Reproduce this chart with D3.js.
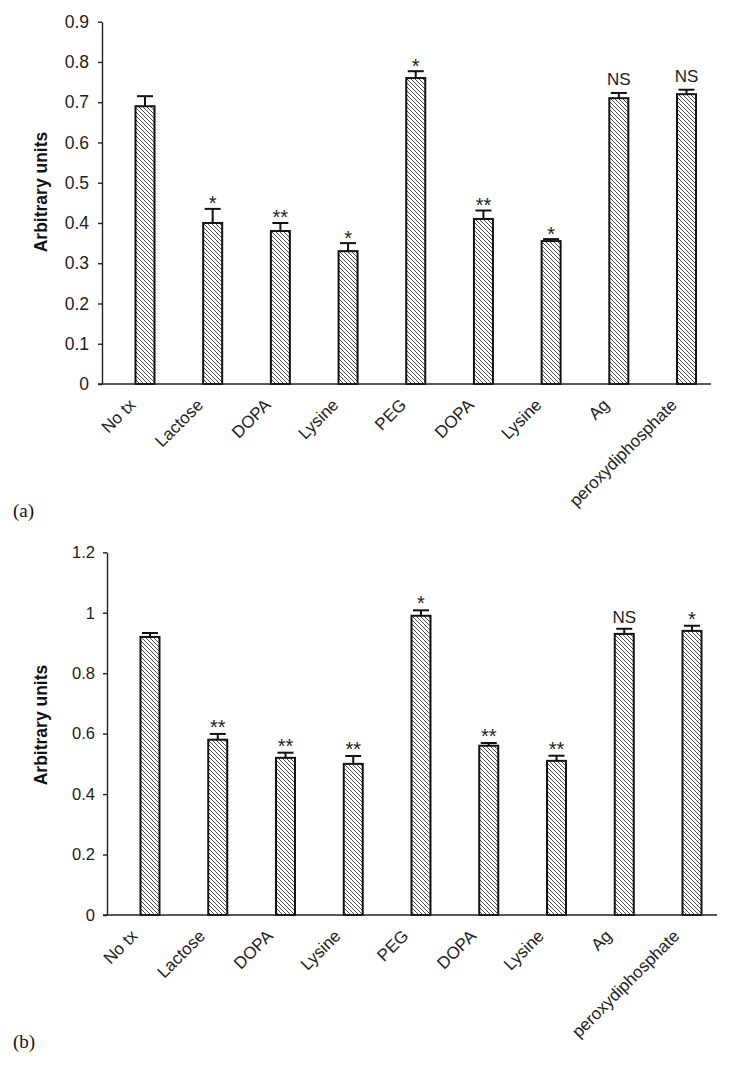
<!DOCTYPE html>
<html>
<head>
<meta charset="utf-8">
<script src="https://cdn.jsdelivr.net/npm/d3@7"></script>
<style>
  body { margin: 0; background: #fff; }
  svg { display: block; }
</style>
</head>
<body>
<svg id="chart" width="746" height="1067"></svg>
<script>
// categories shared by both panels (duplicate names, so bars are keyed by index)
const categories = ['No tx', 'Lactose', 'DOPA', 'Lysine', 'PEG', 'DOPA', 'Lysine', 'Ag', 'peroxydiphosphate'];

// panel (a)
const valuesA = [0.69, 0.40, 0.38, 0.33, 0.76, 0.41, 0.355, 0.71, 0.72];
const errorsA = [0.025, 0.035, 0.02, 0.02, 0.017, 0.021, 0.005, 0.013, 0.011];
const marksA = ['', '*', '**', '*', '*', '**', '*', 'NS', 'NS'];
const ticksA = [0, 0.1, 0.2, 0.3, 0.4, 0.5, 0.6, 0.7, 0.8, 0.9];

// panel (b)
const valuesB = [0.92, 0.58, 0.52, 0.50, 0.99, 0.56, 0.51, 0.93, 0.94];
const errorsB = [0.013, 0.019, 0.017, 0.026, 0.018, 0.009, 0.017, 0.017, 0.017];
const marksB = ['', '**', '**', '**', '*', '**', '**', 'NS', '*'];
const ticksB = [0, 0.2, 0.4, 0.6, 0.8, 1, 1.2];

const FONT = 'Liberation Sans, Arial, Helvetica, sans-serif';

const svg = d3.select('#chart');

svg.append('rect')
  .attr('width', 746)
  .attr('height', 1067)
  .attr('fill', '#fff');

// back-slash hatching used by every bar
const defs = svg.append('defs');
const pat = defs.append('pattern')
  .attr('id', 'hatch')
  .attr('patternUnits', 'userSpaceOnUse')
  .attr('width', 4)
  .attr('height', 4);
pat.append('rect').attr('width', 4).attr('height', 4).attr('fill', '#fff');
pat.append('path')
  .attr('d', 'M-1,-1 L5,5 M-1,3 L1,5 M3,-1 L5,1')
  .attr('stroke', '#3a3a3a')
  .attr('stroke-width', 0.9);

function drawPanel(p) {
  const n = p.values.length;

  const x = d3.scalePoint()
    .domain(d3.range(n))
    .range(p.xRange);

  const y = d3.scaleLinear()
    .domain([0, p.ticks[p.ticks.length - 1]])
    .range(p.yRange);

  const g = svg.append('g');

  // y axis
  const yAxis = g.append('g')
    .attr('transform', `translate(${p.axisX0}, 0)`)
    .call(d3.axisLeft(y)
      .tickValues(p.ticks)
      .tickFormat(d3.format('~g'))
      .tickSize(4)
      .tickSizeOuter(0)
      .tickPadding(p.tickPad));

  yAxis.select('.domain').attr('stroke', '#222').attr('stroke-width', 1.4);
  yAxis.selectAll('.tick line').attr('stroke', '#222').attr('stroke-width', 1.4);
  yAxis.selectAll('text')
    .attr('fill', '#222')
    .style('font', `${p.tickFont}px ${FONT}`);

  // x axis labels (rotated)
  const xAxis = g.append('g')
    .attr('transform', `translate(0, ${y(0)})`)
    .call(d3.axisBottom(x)
      .tickSize(0)
      .tickFormat(i => categories[i]));

  xAxis.select('.domain').remove();
  xAxis.selectAll('text')
    .attr('y', 0)
    .attr('dy', 0)
    .attr('text-anchor', 'end')
    .attr('transform', `translate(${p.labelDx}, ${p.labelDy}) rotate(-45)`)
    .attr('fill', '#222')
    .style('font', `17px ${FONT}`);

  // bars
  const bw = p.barWidth;
  g.append('g')
    .selectAll('rect')
    .data(p.values)
    .enter().append('rect')
    .attr('x', (d, i) => x(i) - bw / 2)
    .attr('y', d => y(d))
    .attr('width', bw)
    .attr('height', d => y(0) - y(d))
    .attr('fill', 'url(#hatch)')
    .attr('stroke', '#111')
    .attr('stroke-width', 2);

  // upper error bars
  const err = g.append('g')
    .attr('stroke', '#111')
    .attr('stroke-width', 2);

  err.selectAll('line.stem')
    .data(p.values)
    .enter().append('line')
    .attr('class', 'stem')
    .attr('x1', (d, i) => x(i))
    .attr('x2', (d, i) => x(i))
    .attr('y1', d => y(d))
    .attr('y2', (d, i) => y(d + p.errors[i]));

  err.selectAll('line.cap')
    .data(p.values)
    .enter().append('line')
    .attr('class', 'cap')
    .attr('x1', (d, i) => x(i) - 8)
    .attr('x2', (d, i) => x(i) + 8)
    .attr('y1', (d, i) => y(d + p.errors[i]))
    .attr('y2', (d, i) => y(d + p.errors[i]));

  // significance marks
  g.append('g')
    .selectAll('text')
    .data(p.values)
    .enter().append('text')
    .attr('x', (d, i) => x(i))
    .attr('y', (d, i) => {
      const top = y(d + p.errors[i]);
      return p.marks[i] === 'NS' ? top - p.nsGap : top + p.starGap;
    })
    .attr('text-anchor', 'middle')
    .attr('fill', '#222')
    .style('font', (d, i) => p.marks[i] === 'NS' ? `17px ${FONT}` : `20px ${FONT}`)
    .text((d, i) => p.marks[i]);

  // x axis baseline
  g.append('line')
    .attr('x1', p.axisX0 - 4)
    .attr('x2', p.axisX1)
    .attr('y1', y(0))
    .attr('y2', y(0))
    .attr('stroke', '#222')
    .attr('stroke-width', 1.4);

  // y axis title
  g.append('text')
    .attr('transform', `translate(47, ${p.titleY}) rotate(-90)`)
    .attr('text-anchor', 'middle')
    .attr('fill', '#111')
    .style('font', `bold 17.5px ${FONT}`)
    .text('Arbitrary units');

  // panel letter
  g.append('text')
    .attr('x', 13)
    .attr('y', p.letterY)
    .attr('fill', '#111')
    .style('font', '19px Liberation Serif, Times New Roman, serif')
    .text(p.letter);
}

drawPanel({
  values: valuesA, errors: errorsA, marks: marksA, ticks: ticksA,
  xRange: [145, 686.5], yRange: [384, 21.7],
  axisX0: 102, axisX1: 711,
  tickPad: 9, tickFont: 17.5,
  labelDx: -9, labelDy: 22,
  barWidth: 19, nsGap: 8, starGap: 1.5,
  titleY: 192, letter: '(a)', letterY: 517
});

drawPanel({
  values: valuesB, errors: errorsB, marks: marksB, ticks: ticksB,
  xRange: [150, 692], yRange: [915, 552.3],
  axisX0: 107, axisX1: 717,
  tickPad: 8, tickFont: 16.5,
  labelDx: -12, labelDy: 22,
  barWidth: 19, nsGap: 6, starGap: 0,
  titleY: 725, letter: '(b)', letterY: 1048
});
</script>
</body>
</html>
